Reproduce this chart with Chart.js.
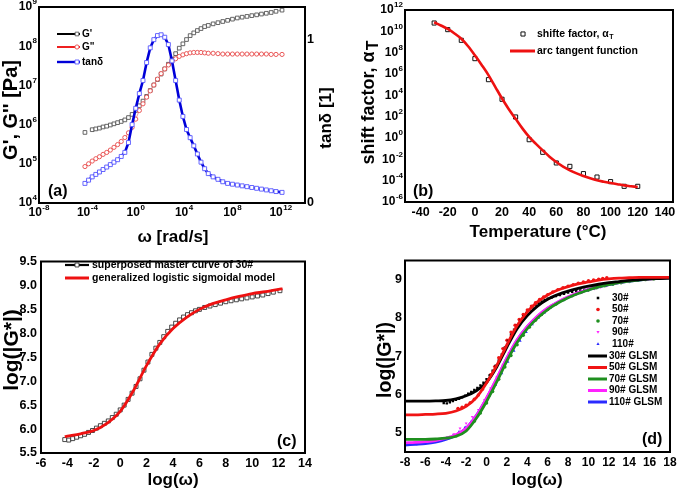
<!DOCTYPE html>
<html><head><meta charset="utf-8">
<script src="https://cdn.jsdelivr.net/npm/chart.js@4.4.1/dist/chart.umd.min.js"></script>
<style>
html,body{margin:0;padding:0;background:#fff;}
body{width:685px;height:496px;position:relative;overflow:hidden;}
canvas{position:absolute;}
</style></head><body>
<canvas id="ca" width="340" height="250" style="left:0;top:0"></canvas>
<canvas id="cb" width="345" height="250" style="left:340px;top:0"></canvas>
<canvas id="cc" width="340" height="246" style="left:0;top:250px"></canvas>
<canvas id="cd" width="345" height="246" style="left:340px;top:250px"></canvas>
<script>
// ---------- Panel (a): log10 values ----------
const aLogOmega = [-4.2,-3.9,-3.6,-3.3,-3.0,-2.7,-2.4,-2.1,-1.8,-1.5,-1.2,-0.9,-0.6,-0.3,0.0,0.3,0.6,0.9,1.2,1.5,1.8,2.1,2.4,2.7,3.0,3.3,3.6,3.9,4.2,4.5,4.8,5.1,5.4,5.7,6.0,6.4,6.8,7.2,7.6,8.0,8.4,8.8,9.2,9.6,10.0,10.4,10.8,11.2,11.6,12.1];
const aLogGp = [5.80,null,5.87,5.89,5.91,5.94,5.96,5.99,6.02,6.05,6.08,6.12,6.18,6.26,6.36,6.48,6.60,6.72,6.87,7.01,7.15,7.29,7.42,7.54,7.67,7.81,7.95,8.06,8.17,8.27,8.34,8.40,8.45,8.50,8.53,8.57,8.60,8.63,8.66,8.69,8.72,8.74,8.76,8.78,8.80,8.82,8.84,8.86,8.89,8.92];
const aLogGpp = [4.93,5.00,5.07,5.13,5.18,5.24,5.29,5.35,5.42,5.49,5.57,5.67,5.79,5.93,6.14,6.36,6.53,6.70,6.86,7.01,7.16,7.30,7.42,7.52,7.61,7.68,7.74,7.78,7.81,7.83,7.84,7.84,7.84,7.83,7.82,7.82,7.81,7.80,7.80,7.80,7.80,7.80,7.80,7.80,7.80,7.80,7.80,7.79,7.79,7.79];
const aTanDelta = [0.12,0.14,0.16,0.175,0.19,0.205,0.22,0.235,0.25,0.265,0.285,0.31,0.37,0.48,0.58,0.67,0.75,0.86,0.95,1.00,1.025,1.03,1.015,0.97,0.87,0.75,0.63,0.53,0.45,0.40,0.35,0.30,0.25,0.21,0.18,0.16,0.145,0.13,0.12,0.115,0.11,0.105,0.10,0.095,0.09,0.085,0.08,0.075,0.07,0.065];
const aXTicks = [-8,-4,0,4,8,12];
const aYTicks = [4,5,6,7,8,9];
const aY2Ticks = [0,1];

// ---------- Panel (b) ----------
const bTemp = [-30,-20,-10,0,10,20,30,40,50,60,70,80,90,100,110,120];
const bLogShift = [10.78,10.16,9.16,7.44,5.47,3.63,1.97,-0.16,-1.34,-2.34,-2.66,-3.34,-3.66,-4.09,-4.53,-4.53];
const bFitTemp = [-30,-25,-20,-15,-10,-5,0,5,10,15,20,25,30,35,40,45,50,55,60,65,70,75,80,85,90,95,100,105,110,115,120];
const bLogFit = [10.85,10.55,10.22,9.80,9.30,8.60,7.75,6.85,5.90,4.80,3.70,2.70,1.80,0.90,0.10,-0.55,-1.16,-1.75,-2.25,-2.68,-3.03,-3.32,-3.56,-3.78,-3.97,-4.10,-4.22,-4.33,-4.44,-4.52,-4.60];
const bXTicks = [-40,-20,0,20,40,60,80,100,120,140];
const bYTicks = [-6,-4,-2,0,2,4,6,8,10,12];

// ---------- Panel (c) ----------
const cLogOmega = aLogOmega;
const cLogGstar = [5.78,5.77,5.80,5.83,5.86,5.89,5.93,5.97,6.02,6.07,6.12,6.17,6.24,6.31,6.40,6.50,6.62,6.75,6.89,7.05,7.23,7.40,7.56,7.69,7.81,7.93,8.04,8.13,8.21,8.28,8.34,8.39,8.43,8.47,8.50,8.54,8.57,8.60,8.63,8.66,8.68,8.70,8.72,8.74,8.76,8.78,8.80,8.83,8.86,8.89];
const cFitLogOmega = [-4.2,-4,-3,-2,-1,0,1,2,3,4,5,6,7,8,9,10,11,12,12.3];
const cFitLogGstar = [5.84,5.85,5.90,5.97,6.12,6.37,6.80,7.33,7.78,8.10,8.33,8.50,8.62,8.70,8.77,8.83,8.87,8.92,8.93];
const cXTicks = [-6,-4,-2,0,2,4,6,8,10,12,14];
const cYTicks = [5.5,6.0,6.5,7.0,7.5,8.0,8.5,9.0,9.5];

// ---------- Panel (d) ----------
const dFitLogOmega = [-8,-7,-6,-5,-4,-3,-2,-1,0,1,2,3,4,5,6,7,8,9,10,11,12,13,14,15,16,17,18];
const dFit30 = [5.83,5.83,5.83,5.835,5.845,5.89,5.97,6.10,6.32,6.72,7.24,7.72,8.06,8.31,8.49,8.61,8.70,8.77,8.83,8.88,8.92,8.95,8.98,9.00,9.02,9.03,9.04];
const dFit50 = [5.47,5.47,5.48,5.49,5.51,5.57,5.69,5.92,6.30,6.76,7.30,7.80,8.16,8.42,8.60,8.73,8.82,8.89,8.94,8.99,9.02,9.04,9.05,9.06,9.06,9.06,9.06];
const dFit70 = [4.83,4.83,4.83,4.84,4.86,4.91,5.05,5.38,5.82,6.33,6.88,7.36,7.72,8.00,8.22,8.39,8.53,8.64,8.73,8.81,8.87,8.92,8.96,8.99,9.02,9.04,9.05];
const dFit90 = [4.74,4.75,4.77,4.80,4.86,4.95,5.12,5.45,5.91,6.42,6.96,7.43,7.78,8.05,8.26,8.42,8.55,8.66,8.75,8.82,8.88,8.93,8.97,9.00,9.02,9.04,9.05];
const dFit110 = [4.68,4.70,4.72,4.76,4.83,4.94,5.12,5.45,5.90,6.41,6.95,7.42,7.77,8.04,8.25,8.41,8.54,8.65,8.74,8.81,8.87,8.92,8.96,8.99,9.02,9.04,9.05];
const d30X = cLogOmega, d30Y = cLogGstar;
const d50X = [-2.8,-2.4,-2.0,-1.6,-1.2,-0.8,-0.4,0,0.4,0.8,1.2,1.6,2.0,2.4,2.8,3.2,3.6,4.0,4.4,4.8,5.2,5.6,6.0,6.5,7.0,7.5,8.0,8.5,9.0,9.5,10.0,10.5,11.0,11.4,11.8];
const d50Y = [5.64,5.67,5.72,5.79,5.88,5.99,6.14,6.32,6.52,6.73,6.96,7.20,7.42,7.63,7.81,7.96,8.09,8.21,8.31,8.40,8.48,8.55,8.61,8.68,8.74,8.79,8.83,8.87,8.91,8.94,8.97,8.99,9.01,9.03,9.05];
const d70X = [-3.6,-3.0,-2.4,-1.8,-1.2,-0.6,0,0.6,1.2,1.8,2.4,3.0,3.6,4.2,4.8,5.4,6.0,6.8,7.6,8.4,9.2,10.0,10.8,11.6,12.4,13.2,14.0,14.8,15.6,16.4,17.2,18.0];
const d70Y = [4.88,4.92,5.00,5.13,5.30,5.52,5.78,6.08,6.40,6.72,7.02,7.30,7.55,7.76,7.94,8.09,8.22,8.36,8.48,8.58,8.66,8.73,8.79,8.84,8.88,8.92,8.95,8.98,9.00,9.02,9.04,9.05];
const d90X = [-4.4,-3.8,-3.2,-2.6,-2.0,-1.4,-0.8,-0.2,0.4,1.0,1.6,2.2,2.8,3.4,4.0,4.6,5.2,5.8,6.4,7.0,7.6,8.2,8.8,9.4,10.0,10.6,11.2,11.8];
const d90Y = [4.84,4.88,4.97,5.12,5.25,5.42,5.60,5.86,6.16,6.45,6.77,7.08,7.34,7.57,7.77,7.94,8.09,8.21,8.32,8.41,8.49,8.56,8.62,8.67,8.72,8.76,8.80,8.84];
const d110X = [-3.9,-3.3,-2.7,-2.1,-1.5,-0.9,-0.3,0.3,0.9,1.5,2.1,2.7,3.3,3.9,4.5,5.1,5.7,6.3,6.9,7.5,8.1,8.7,9.3,9.9,10.5,11.1,11.7];
const d110Y = [4.87,4.93,5.03,5.15,5.30,5.48,5.70,5.97,6.25,6.55,6.85,7.14,7.40,7.63,7.83,8.00,8.14,8.27,8.37,8.46,8.54,8.61,8.67,8.72,8.77,8.81,8.84];
const dXTicks = [-8,-6,-4,-2,0,2,4,6,8,10,12,14,16,18];
const dYTicks = [5,6,7,8,9];

// ---------- helpers ----------
const F = "Arial, 'Liberation Sans', Helvetica, sans-serif";
const pts = (xs, ys) => xs.map((x, i) => ({x: x, y: ys[i]}));
const noGrid = {display: false, drawTicks: false};
const noBorder = {display: false};
const setTicks = arr => (s => { s.ticks = arr.map(v => ({value: v})); });
const tickFont = {family: F, size: 12.5, weight: 'bold'};

function txt(ctx, s, x, y, font, align, base, rot) {
  ctx.save(); ctx.translate(x, y); if (rot) ctx.rotate(rot);
  ctx.font = font; ctx.fillStyle = '#000';
  ctx.textAlign = align || 'left'; ctx.textBaseline = base || 'middle';
  ctx.fillText(s, 0, 0); ctx.restore();
}
function pow10(ctx, exp, x, y, mode) {
  const b = 'bold 12px ' + F, sp = 'bold 8px ' + F;
  const sup = String(exp);
  ctx.font = b; const wb = ctx.measureText('10').width;
  ctx.font = sp; const ws = ctx.measureText(sup).width;
  const w = wb + ws + 0.5;
  const x0 = mode === 'right' ? x - w : x - w / 2;
  ctx.fillStyle = '#000'; ctx.textAlign = 'left'; ctx.textBaseline = 'middle';
  ctx.font = b; ctx.fillText('10', x0, y);
  ctx.font = sp; ctx.fillText(sup, x0 + wb + 0.5, y - 5);
}
function marker(ctx, style, x, y, r, stroke, fill, lw, rot) {
  ctx.save(); ctx.translate(x, y); if (rot) ctx.rotate(rot * Math.PI / 180);
  ctx.beginPath();
  if (style === 'rect') { const s = r * Math.SQRT1_2; ctx.rect(-s, -s, 2 * s, 2 * s); }
  else if (style === 'triangle') { ctx.moveTo(0, -r); ctx.lineTo(r * 0.87, r * 0.5); ctx.lineTo(-r * 0.87, r * 0.5); ctx.closePath(); }
  else ctx.arc(0, 0, r, 0, Math.PI * 2);
  if (fill) { ctx.fillStyle = fill; ctx.fill(); }
  if (stroke) { ctx.strokeStyle = stroke; ctx.lineWidth = lw || 1; ctx.stroke(); }
  ctx.restore();
}
function hline(ctx, x1, x2, y, color, lw) {
  ctx.save(); ctx.strokeStyle = color; ctx.lineWidth = lw; ctx.beginPath();
  ctx.moveTo(x1, y); ctx.lineTo(x2, y); ctx.stroke(); ctx.restore();
}
function frame(chart) {
  const a = chart.chartArea, ctx = chart.ctx;
  ctx.save(); ctx.strokeStyle = '#000'; ctx.lineWidth = 2;
  ctx.strokeRect(a.left, a.top, a.right - a.left, a.bottom - a.top); ctx.restore();
}
function deco(fn) { return {id: 'deco', afterDraw(chart) { frame(chart); const ctx = chart.ctx; ctx.save(); fn(chart, ctx); ctx.restore(); }}; }
const base = {responsive: false, animation: false, events: [], plugins: {legend: {display: false}, tooltip: {enabled: false}}};
const TITLE = 'bold 17px ' + F;

// ---------- Chart (a) ----------
new Chart(document.getElementById('ca'), {
  type: 'scatter',
  data: {datasets: [
    {label: "G'", data: pts(aLogOmega, aLogGp), yAxisID: 'y', showLine: true, borderColor: '#777', borderWidth: 0.8,
     pointStyle: 'rect', pointRadius: 2.6, pointBorderColor: '#555', pointBackgroundColor: '#fff', pointBorderWidth: 0.9, order: 3},
    {label: 'G"', data: pts(aLogOmega, aLogGpp), yAxisID: 'y', showLine: true, borderColor: '#f08080', borderWidth: 0.8,
     pointStyle: 'circle', pointRadius: 2.1, pointBorderColor: '#e84848', pointBackgroundColor: '#fff', pointBorderWidth: 0.9, order: 2},
    {label: 'tanδ', data: pts(aLogOmega, aTanDelta), yAxisID: 'y2', showLine: true, borderColor: '#0000d8', borderWidth: 2.6,
     pointStyle: 'rect', pointRadius: 2.8, pointBorderColor: '#5656ff', pointBackgroundColor: '#fff', pointBorderWidth: 0.9, order: 1}
  ]},
  options: Object.assign({}, base, {
    layout: {padding: {top: 7, left: 0, right: 0, bottom: 0}},
    scales: {
      x: {type: 'linear', min: -8, max: 14, grid: noGrid, border: noBorder, ticks: {display: false}, afterBuildTicks: setTicks(aXTicks), afterFit: s => { s.height = 47; }},
      y: {type: 'linear', position: 'left', min: 4, max: 9, grid: noGrid, border: noBorder, ticks: {display: false}, afterBuildTicks: setTicks(aYTicks), afterFit: s => { s.width = 39; }},
      y2: {type: 'linear', position: 'right', min: 0, max: 1.2, grid: noGrid, border: noBorder, ticks: {display: false}, afterBuildTicks: setTicks(aY2Ticks), afterFit: s => { s.width = 35; }}
    }
  }),
  plugins: [deco((chart, ctx) => {
    const sx = chart.scales.x, sy = chart.scales.y, s2 = chart.scales.y2, A = chart.chartArea;
    aYTicks.forEach(v => pow10(ctx, v, A.left - 2, sy.getPixelForValue(v), 'right'));
    aXTicks.forEach(v => pow10(ctx, v, sx.getPixelForValue(v), A.bottom + 10, 'center'));
    aY2Ticks.forEach(v => txt(ctx, String(v), A.right + 2, s2.getPixelForValue(v), 'bold 12.5px ' + F, 'left'));
    txt(ctx, 'ω [rad/s]', 173, 237, TITLE, 'center');
    txt(ctx, "G', G'' [Pa]", 11, 110, 'bold 20px ' + F, 'center', 'middle', -Math.PI / 2);
    txt(ctx, 'tanδ [1]', 326, 118, TITLE, 'center', 'middle', -Math.PI / 2);
    txt(ctx, '(a)', 48, 192, 'bold 16px ' + F, 'left');
    // legend
    const lf = 'bold 10px ' + F;
    hline(ctx, 57, 80, 34, '#000', 2); marker(ctx, 'rect', 77, 34, 2.6, '#555', '#fff', 0.9); txt(ctx, "G'", 82, 34, lf);
    hline(ctx, 57, 80, 47, '#ee2020', 2); marker(ctx, 'circle', 77, 47, 2.1, '#e84848', '#fff', 0.9); txt(ctx, 'G"', 82, 47, lf);
    hline(ctx, 57, 80, 62, '#0000d8', 2.4); marker(ctx, 'rect', 77, 62, 2.8, '#5656ff', '#fff', 0.9); txt(ctx, 'tanδ', 82, 62, lf);
  })]
});

// ---------- Chart (b) ----------
new Chart(document.getElementById('cb'), {
  type: 'scatter',
  data: {datasets: [
    {label: 'shifte factor, αT', data: pts(bTemp, bLogShift), showLine: false, pointStyle: 'rect', pointRadius: 2.9,
     pointBorderColor: '#111', pointBackgroundColor: '#fff', pointBorderWidth: 1, order: 2},
    {label: 'arc tangent function', data: pts(bFitTemp, bLogFit), showLine: true, borderColor: '#ee1111', borderWidth: 2.6,
     pointRadius: 0, cubicInterpolationMode: 'monotone', order: 1}
  ]},
  options: Object.assign({}, base, {
    layout: {padding: {top: 10, left: 0, right: 12, bottom: 0}},
    scales: {
      x: {type: 'linear', min: -51.5, max: 146, grid: noGrid, border: noBorder, afterBuildTicks: setTicks(bXTicks),
          ticks: {font: tickFont, color: '#000', padding: 3, maxRotation: 0, autoSkip: false}, afterFit: s => { s.height = 48; }},
      y: {type: 'linear', min: -6, max: 12, grid: noGrid, border: noBorder, ticks: {display: false}, afterBuildTicks: setTicks(bYTicks), afterFit: s => { s.width = 65; }}
    }
  }),
  plugins: [deco((chart, ctx) => {
    const sy = chart.scales.y, A = chart.chartArea;
    bYTicks.forEach(v => pow10(ctx, v, A.left - 2, sy.getPixelForValue(v), 'right'));
    txt(ctx, 'Temperature (°C)', 198, 232, TITLE, 'center');
    // rotated y title with subscript T
    ctx.save(); ctx.translate(28, 103); ctx.rotate(-Math.PI / 2);
    const YT = 'bold 18px ' + F;
    ctx.font = YT; const m = 'shift factor, α'; const w1 = ctx.measureText(m).width;
    ctx.font = 'bold 16px ' + F; const w2 = ctx.measureText('T').width;
    const x0 = -(w1 + w2) / 2;
    ctx.fillStyle = '#000'; ctx.textAlign = 'left'; ctx.textBaseline = 'alphabetic';
    ctx.font = YT; ctx.fillText(m, x0, 6);
    ctx.font = 'bold 16px ' + F; ctx.fillText('T', x0 + w1 + 1, 10);
    ctx.restore();
    txt(ctx, '(b)', 73, 192, 'bold 16px ' + F, 'left');
    // legend
    const lf = 'bold 10.5px ' + F;
    marker(ctx, 'rect', 183, 34, 2.9, '#111', '#fff', 1);
    ctx.font = lf; const wl = ctx.measureText('shifte factor, α').width;
    txt(ctx, 'shifte factor, α', 197, 34, lf);
    txt(ctx, 'T', 197 + wl + 0.5, 37, 'bold 7px ' + F);
    hline(ctx, 170, 195, 51, '#ee1111', 3);
    txt(ctx, 'arc tangent function', 197, 51, lf);
  })]
});

// ---------- Chart (c) ----------
new Chart(document.getElementById('cc'), {
  type: 'scatter',
  data: {datasets: [
    {label: 'superposed master curve of 30#', data: pts(cLogOmega, cLogGstar), showLine: false, pointStyle: 'rect', pointRadius: 2.8,
     pointBorderColor: '#333', pointBackgroundColor: '#fff', pointBorderWidth: 0.9, order: 2},
    {label: 'generalized logistic sigmoidal model', data: pts(cFitLogOmega, cFitLogGstar), showLine: true, borderColor: '#ee1111',
     borderWidth: 2.8, pointRadius: 0, cubicInterpolationMode: 'monotone', order: 1}
  ]},
  options: Object.assign({}, base, {
    layout: {padding: {top: 5, left: 0, right: 35, bottom: 0}},
    scales: {
      x: {type: 'linear', min: -6, max: 14, grid: noGrid, border: noBorder, afterBuildTicks: setTicks(cXTicks),
          ticks: {font: tickFont, color: '#000', padding: 3, maxRotation: 0, autoSkip: false}, afterFit: s => { s.height = 43; }},
      y: {type: 'linear', min: 5.5, max: 9.5, grid: noGrid, border: noBorder, afterBuildTicks: setTicks(cYTicks),
          ticks: {font: tickFont, color: '#000', padding: 4, callback: v => Number(v).toFixed(1)}, afterFit: s => { s.width = 41; }}
    }
  }),
  plugins: [deco((chart, ctx) => {
    txt(ctx, 'log(ω)', 173, 230, TITLE, 'center');
    txt(ctx, 'log(|G*|)', 12, 100, 'bold 21px ' + F, 'center', 'middle', -Math.PI / 2);
    txt(ctx, '(c)', 277, 192, 'bold 16px ' + F, 'left');
    const lf = 'bold 10.5px ' + F;
    hline(ctx, 65, 89, 15, '#000', 2.2); marker(ctx, 'rect', 77, 15, 2.8, '#333', '#fff', 0.9);
    txt(ctx, 'superposed master curve of 30#', 92, 15, lf);
    hline(ctx, 65, 89, 28, '#ee1111', 3);
    txt(ctx, 'generalized logistic sigmoidal model', 92, 28, lf);
  })]
});

// ---------- Chart (d) ----------
const dotSet = (label, xs, ys, color, style, rot) => ({label: label, data: pts(xs, ys), showLine: false, pointStyle: style,
  pointRotation: rot || 0, pointRadius: 1.7, pointBorderWidth: 0, pointBackgroundColor: color, pointBorderColor: color, order: 10});
const fitSet = (label, ys, color, ord) => ({label: label, data: pts(dFitLogOmega, ys), showLine: true, borderColor: color,
  borderWidth: 2.8, pointRadius: 0, cubicInterpolationMode: 'monotone', order: ord});
const cBlack = '#000', cRed = '#f01414', cGreen = '#1f8f1f', cMag = '#ff22ff', cBlue = '#2a2aff';
new Chart(document.getElementById('cd'), {
  type: 'scatter',
  data: {datasets: [
    dotSet('30#', d30X, d30Y, cBlack, 'rect'),
    dotSet('50#', d50X, d50Y, cRed, 'circle'),
    dotSet('70#', d70X, d70Y, cGreen, 'circle'),
    dotSet('90#', d90X, d90Y, cMag, 'triangle', 180),
    dotSet('110#', d110X, d110Y, cBlue, 'triangle'),
    fitSet('30# GLSM', dFit30, cBlack, 2),
    fitSet('50# GLSM', dFit50, cRed, 1),
    fitSet('70# GLSM', dFit70, cGreen, 3),
    fitSet('90# GLSM', dFit90, cMag, 4),
    fitSet('110# GLSM', dFit110, cBlue, 5)
  ]},
  options: Object.assign({}, base, {
    layout: {padding: {top: 5, left: 0, right: 15, bottom: 0}},
    scales: {
      x: {type: 'linear', min: -8, max: 18, grid: noGrid, border: noBorder, afterBuildTicks: setTicks(dXTicks),
          ticks: {font: {family: F, size: 12, weight: 'bold'}, color: '#000', padding: 3, maxRotation: 0, autoSkip: false}, afterFit: s => { s.height = 44; }},
      y: {type: 'linear', min: 4.5, max: 9.5, grid: noGrid, border: noBorder, afterBuildTicks: setTicks(dYTicks),
          ticks: {font: tickFont, color: '#000', padding: 3}, afterFit: s => { s.width = 65; }}
    }
  }),
  plugins: [deco((chart, ctx) => {
    txt(ctx, 'log(ω)', 197, 230, TITLE, 'center');
    txt(ctx, 'log(|G*|)', 46, 110, 'bold 19.5px ' + F, 'center', 'middle', -Math.PI / 2);
    txt(ctx, '(d)', 302, 190, 'bold 16px ' + F, 'left');
    const lf = 'bold 10px ' + F;
    const dots = [['30#', cBlack, 'rect', 0], ['50#', cRed, 'circle', 0], ['70#', cGreen, 'circle', 0], ['90#', cMag, 'triangle', 180], ['110#', cBlue, 'triangle', 0]];
    const dy = [48, 59.5, 71, 82, 94];
    dots.forEach((d, i) => { marker(ctx, d[2], 258, dy[i], 1.8, null, d[1], 0, d[3]); txt(ctx, d[0], 272, dy[i], lf); });
    const lines = [['30# GLSM', cBlack], ['50# GLSM', cRed], ['70# GLSM', cGreen], ['90# GLSM', cMag], ['110# GLSM', cBlue]];
    const ly = [106, 117.5, 129, 140.5, 152];
    lines.forEach((d, i) => { hline(ctx, 248, 267, ly[i], d[1], 3); txt(ctx, d[0], 269, ly[i], lf); });
  })]
});
</script>
</body></html>
